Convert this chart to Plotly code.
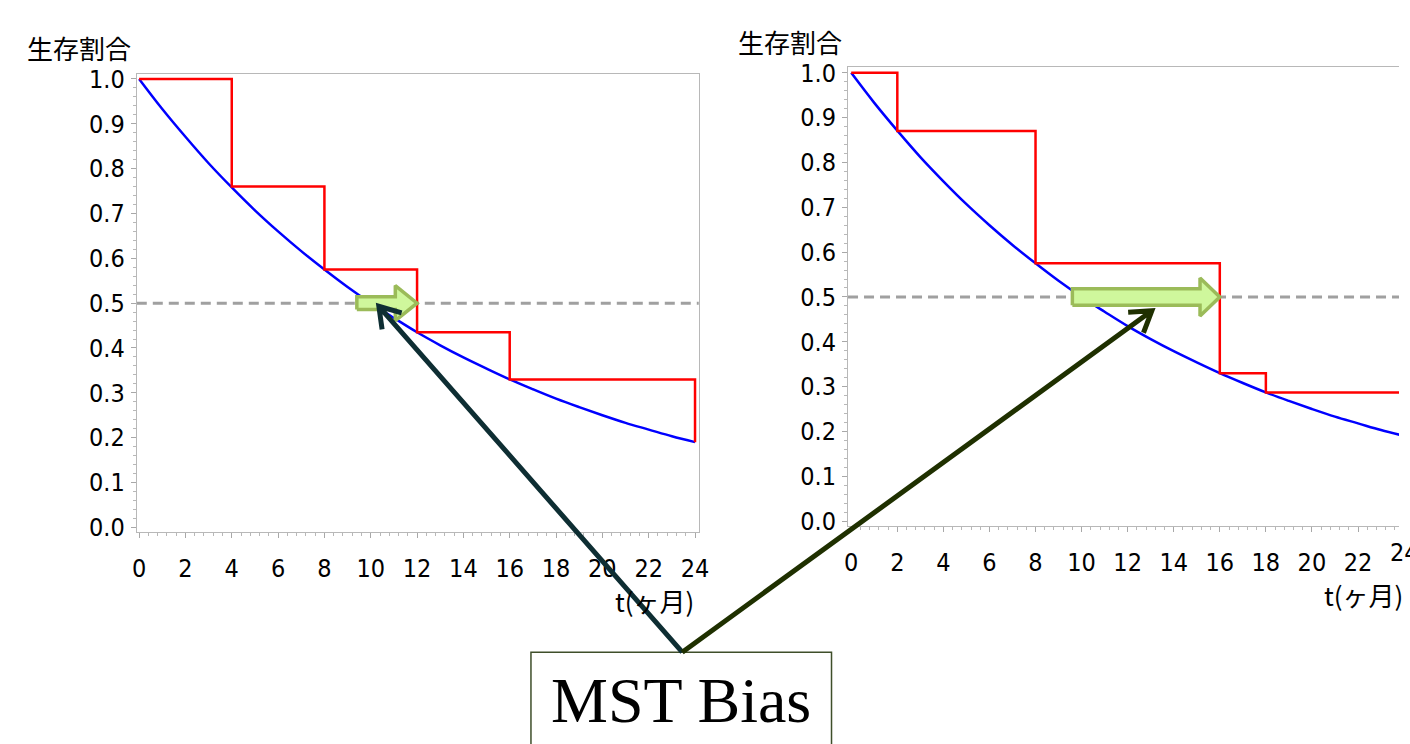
import math
import plotly.graph_objects as go

W, H = 1410, 744

# ---------------- data ----------------
months = list(range(0, 25))
true_surv = [1.000, 0.933, 0.871, 0.812, 0.758, 0.707, 0.660, 0.616, 0.575,
             0.536, 0.500, 0.467, 0.435, 0.406, 0.379, 0.354, 0.330, 0.308,
             0.287, 0.268, 0.250, 0.233, 0.218, 0.203, 0.190]

km1_t = [0, 4, 8, 12, 16, 24, 24]
km1_s = [1.000, 0.760, 0.575, 0.435, 0.330, 0.330, 0.190]

km2_t = [0, 2, 8, 16, 18, 24]
km2_s = [1.000, 0.870, 0.575, 0.330, 0.287, 0.287]

ref_level = 0.5
shift_from = [9.4, 9.6]
shift_to = [12.0, 16.0]

pointer_tip_x = [10.35, 13.05]
pointer_tip_y = [0.493, 0.469]

x_tick_vals = [0, 2, 4, 6, 8, 10, 12, 14, 16, 18, 20, 22, 24]
x_tick_text = ["0", "2", "4", "6", "8", "10", "12", "14", "16", "18", "20", "22", "24"]
y_tick_vals = [0.0, 0.1, 0.2, 0.3, 0.4, 0.5, 0.6, 0.7, 0.8, 0.9, 1.0]
y_tick_text = ["0.0", "0.1", "0.2", "0.3", "0.4", "0.5", "0.6", "0.7", "0.8", "0.9", "1.0"]

y_title = "生存割合"
x_title = "t(ヶ月)"
box_text = "MST Bias"

# ---------------- layout geometry (pixels) ----------------
PANELS = [
    dict(dx=(133.3, 701.7), dy=(537.0, 66.7), rx=(-0.10, 24.16), ry=(-0.011, 1.011),
         xa="x", ya="y", km_t=km1_t, km_s=km1_s, head_px=(6.5, 18.0, 22.0),
         ytitle_px=(75, 39), mirror_y=True),
    dict(dx=(852.7, 1410.0), dy=(531.0, 60.0), rx=(-0.14, 23.78), ry=(-0.012, 1.012),
         xa="x2", ya="y2", km_t=km2_t, km_s=km2_s, head_px=(8.5, 19.5, 20.0),
         ytitle_px=(794, 33), mirror_y=False),
]


def data_to_px(p, x, y):
    px = p["dx"][0] + (x - p["rx"][0]) / (p["rx"][1] - p["rx"][0]) * (p["dx"][1] - p["dx"][0])
    py = p["dy"][0] + (y - p["ry"][0]) / (p["ry"][1] - p["ry"][0]) * (p["dy"][1] - p["dy"][0])
    return px, py


def pxp(px, py):
    return px / W, 1 - py / H


tick_font = dict(family="Liberation Sans Narrow, DejaVu Sans Condensed, Arial Narrow, sans-serif",
                 size=25, color="black")
cjk_font = dict(family="Noto Sans CJK JP, sans-serif", size=26, color="black")

fig = go.Figure()
shapes = []
annotations = []
layout_axes = {}

for i, p in enumerate(PANELS):
    sx = "" if i == 0 else "2"
    xpx_per = (p["dx"][1] - p["dx"][0]) / (p["rx"][1] - p["rx"][0])
    ypx_per = (p["dy"][0] - p["dy"][1]) / (p["ry"][1] - p["ry"][0])

    # true survival curve
    fig.add_trace(go.Scatter(x=months, y=true_surv, mode="lines",
                             line=dict(color="#0000FF", width=2.5, shape="spline"),
                             xaxis=p["xa"], yaxis=p["ya"], hoverinfo="skip"))
    # KM step
    fig.add_trace(go.Scatter(x=p["km_t"], y=p["km_s"], mode="lines",
                             line=dict(color="#FF0000", width=2.5, shape="hv"),
                             xaxis=p["xa"], yaxis=p["ya"], hoverinfo="skip"))

    # green block arrow (shift of the median)
    hs_px, hh_px, L_px = p["head_px"]
    hs, hh, L = hs_px / ypx_per, hh_px / ypx_per, L_px / xpx_per
    xs, xe, yc = shift_from[i], shift_to[i], ref_level
    ax_ = [xs, xe - L, xe - L, xe, xe - L, xe - L, xs, xs]
    ay_ = [yc - hs, yc - hs, yc - hh, yc, yc + hh, yc + hs, yc + hs, yc - hs]
    fig.add_trace(go.Scatter(x=ax_, y=ay_, mode="lines", fill="toself",
                             fillcolor="#CFF79C", line=dict(color="#9BBB59", width=3.5),
                             xaxis=p["xa"], yaxis=p["ya"], hoverinfo="skip"))

    # dashed 0.5 line
    shapes.append(dict(type="line", xref=f"{p['xa']} domain", yref=p["ya"], x0=0, x1=1,
                       y0=ref_level, y1=ref_level, layer="below",
                       line=dict(color="#A0A0A0", width=3, dash="10px,6px")))

    axis_line = dict(showline=True, linecolor="#B8B8B8", linewidth=1, showgrid=False,
                     zeroline=False, ticks="outside", ticklen=5, tickwidth=1,
                     tickcolor="#A8A8A8", tickfont=tick_font)
    layout_axes[f"xaxis{sx}"] = dict(
        axis_line, domain=[p["dx"][0] / W, p["dx"][1] / W], range=list(p["rx"]),
        anchor=p["ya"], tickmode="array", tickvals=x_tick_vals, ticktext=x_tick_text,
        mirror=True, ticklabelstandoff=9,
        minor=dict(ticks="outside", ticklen=3, tickcolor="#B8B8B8", tickmode="linear",
                   tick0=0, dtick=0.4))
    layout_axes[f"yaxis{sx}"] = dict(
        axis_line, domain=[1 - p["dy"][0] / H, 1 - p["dy"][1] / H], range=list(p["ry"]),
        anchor=p["xa"], tickmode="array", tickvals=y_tick_vals, ticktext=y_tick_text,
        mirror=p["mirror_y"], ticklabelstandoff=1,
        minor=dict(ticks="outside", ticklen=3, tickcolor="#B8B8B8", tickmode="linear",
                   tick0=0, dtick=0.02))

    # y title
    tx, ty = pxp(*p["ytitle_px"])
    annotations.append(dict(text=y_title, x=tx, y=ty, xref="paper", yref="paper",
                            showarrow=False, xanchor="center", yanchor="middle", font=cjk_font))
    # x title, right-aligned at x = 24
    end_px, _ = data_to_px(p, x_tick_vals[-1], 0)
    tx, ty = pxp(end_px + 1, p["dy"][0] + 70)
    annotations.append(dict(text=x_title, x=tx, y=ty, xref="paper", yref="paper",
                            showarrow=False, xanchor="right", yanchor="middle", font=cjk_font))

# last tick label of the right panel, cut by the page edge
p2 = PANELS[1]
end_px, _ = data_to_px(p2, x_tick_vals[-1], 0)
tx, ty = pxp(end_px, p2["dy"][0] + 27)
annotations.append(dict(text=x_tick_text[-1], x=tx, y=ty, xref="paper", yref="paper",
                        showarrow=False, xanchor="center", yanchor="middle", font=tick_font))

# MST Bias box
bx0, bx1, by0 = 532, 836, 660
shapes.append(dict(type="rect", xref="paper", yref="paper", x0=bx0 / W, x1=bx1 / W,
                   y0=1 - by0 / H, y1=-0.2, line=dict(color="#3F4F2A", width=1.5)))
annotations.append(dict(text=box_text, x=(bx0 + bx1) / 2 / W, y=1 - 710 / H,
                        xref="paper", yref="paper", showarrow=False, xanchor="center",
                        yanchor="middle",
                        font=dict(family="Liberation Serif, Times New Roman, serif",
                                  size=64, color="black")))

# pointer arrows from the box to the green arrows
tail = ((bx0 + bx1) / 2 + 1, by0)
pointer_colors = ["#0E2E33", "#1F3000"]
for i, p in enumerate(PANELS):
    tipx, tipy = data_to_px(p, pointer_tip_x[i], pointer_tip_y[i])
    dx, dy = tipx - tail[0], tipy - tail[1]
    n = math.hypot(dx, dy)
    ux, uy = dx / n, dy / n
    arm, th = 24, math.radians(33)
    pts = []
    for s in (1, -1):
        c, si = math.cos(s * th), math.sin(s * th)
        rx, ry = ux * c - uy * si, ux * si + uy * c
        pts.append((tipx - arm * rx, tipy - arm * ry))

    def P(a, b):
        q = pxp(a, b)
        return f"{q[0]:.5f},{q[1]:.5f}"
    path = (f"M{P(*tail)} L{P(tipx, tipy)} M{P(*pts[0])} L{P(tipx, tipy)} L{P(*pts[1])}")
    shapes.append(dict(type="path", xref="paper", yref="paper", path=path,
                       line=dict(color=pointer_colors[i], width=5)))

fig.update_layout(
    width=W, height=H, margin=dict(l=0, r=0, t=0, b=0),
    paper_bgcolor="white", plot_bgcolor="white", showlegend=False,
    shapes=shapes, annotations=annotations, **layout_axes)

fig.write_html("out.html", config={"displayModeBar": False},
               post_script="document.body.style.margin='0px';"
                           "document.body.style.overflow='hidden';")
